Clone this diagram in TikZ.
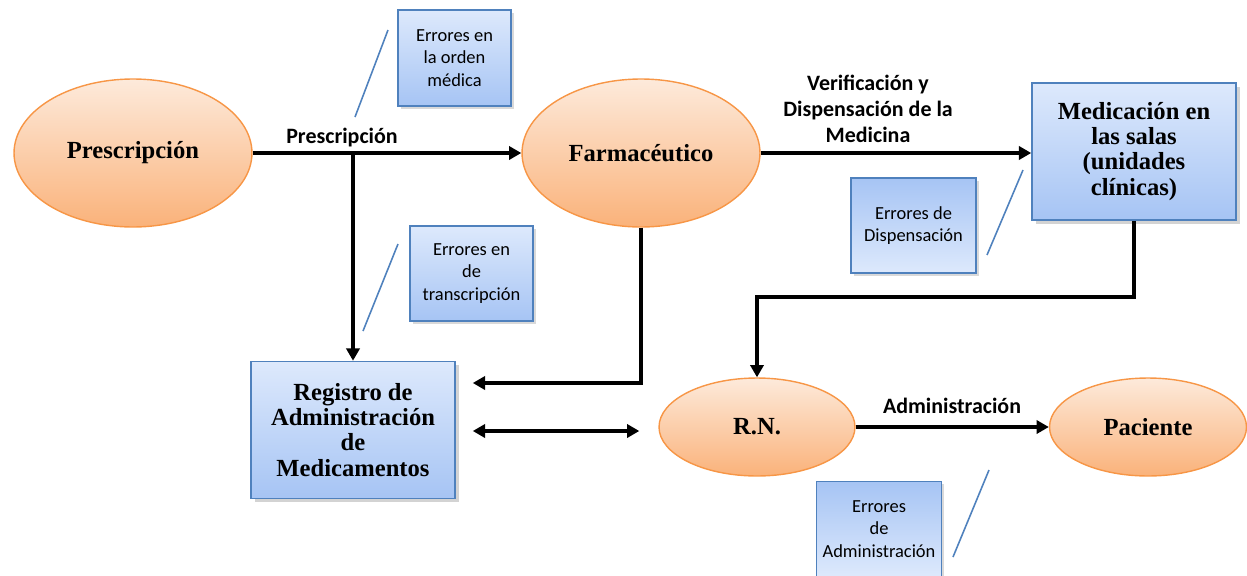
\documentclass[tikz,border=0pt]{standalone}
\usepackage{fontspec}
\setmainfont{Carlito}
\newfontfamily\headfont{Liberation Serif}
\usepackage{tikz}
\usetikzlibrary{calc,shapes.geometric,arrows.meta,shadows}

\definecolor{orline}{RGB}{247,150,70}
\definecolor{ortop}{RGB}{253,234,219}
\definecolor{orbot}{RGB}{250,178,122}
\definecolor{blline}{RGB}{79,129,189}
\definecolor{bltop}{RGB}{221,233,252}
\definecolor{blbot}{RGB}{166,196,244}

\tikzset{
	actor/.style={ellipse, draw=orline, line width=0.8pt, top color=ortop, bottom color=orbot,
		minimum width=4.76cm, minimum height=2.96cm, font=\headfont\bfseries\fontsize{14}{14.5}\selectfont},
	unit/.style={rectangle, draw=blline, line width=0.9pt, top color=bltop, bottom color=blbot,
		minimum width=4.08cm, minimum height=2.74cm, align=center,
		drop shadow={opacity=0.35, shadow xshift=2pt, shadow yshift=-2pt},
		font=\headfont\bfseries\fontsize{14}{14.3}\selectfont},
	errbox/.style={rectangle, draw=blline, line width=0.8pt, top color=bltop, bottom color=blbot,
		align=center, drop shadow={opacity=0.3, shadow xshift=1.5pt, shadow yshift=-1.5pt},
		font=\fontsize{10.5}{12.8}\selectfont},
	errboxinv/.style={errbox, top color=blbot, bottom color=bltop},
	flow/.style={line width=2pt, -{Triangle[length=7pt,width=7.5pt]}},
	flowboth/.style={line width=2pt, {Triangle[length=7pt,width=7.5pt]}-{Triangle[length=7pt,width=7.5pt]}},
	tag/.style={font=\bfseries\fontsize{12.5}{14.7}\selectfont, align=center},
	callout/.style={draw=blline, line width=0.9pt}
}

\begin{document}
\begin{tikzpicture}[x=0.02cm, y=-0.02cm]
			%%%%% START %%%%%
			\useasboundingbox (0,0) rectangle (1247,575);
			
			% main flow
			\node[actor] (presc) at (133,153) {Prescripción};
			\node[actor] (farm) at (641,153) {Farmacéutico};
			\node[unit] (med) at (1134,151.5) {Medicación en\\las salas\\(unidades\\clínicas)};
			\node[unit] (reg) at (353,430) {Registro de\\Administración\\de\\Medicamentos};
			\node[actor, minimum width=3.92cm, minimum height=1.96cm] (rn) at (757,427) {R.N.};
			\node[actor, minimum width=3.94cm, minimum height=1.96cm] (pac) at (1148,427) {Paciente};
			
			% error boxes
			\node[errbox, minimum width=2.26cm, minimum height=1.92cm] (errorden) at (454.5,58) {Errores en\\la orden\\médica};
			\node[errboxinv, minimum width=2.5cm, minimum height=1.9cm] (errdisp) at (913.5,225.5) {Errores de\\Dispensación};
			\node[errbox, minimum width=2.46cm, minimum height=1.9cm] (errtrans) at (471.5,273.5) {Errores en\\de\\transcripción};
			\node[errboxinv, minimum width=2.48cm, minimum height=1.9cm] (erradm) at (879,529) {Errores\\de\\Administración};
			
			% arrows
			\draw[flow] (presc) -- (farm);
			\node[tag] (lblpresc) at (342,138) {Prescripción};
			\draw[flow] (reg.north |- presc.east) -- (reg.north);
			\draw[flow] (farm.east) -- (farm.east -| med.west);
			\node[tag] (lblverif) at (868,109) {Verificación y\\Dispensación de la\\Medicina};
			
			\coordinate (regin) at ($(reg.east)+(17,-47)$);
			\draw[flow] (farm.south) |- (regin);
			\draw[flowboth] ($(reg.east)+(17,1)$) -- ($(rn.west)+(-19,4)$);
			\draw[flow] (med.south) -- ++(0,76) -| (rn.north);
			\draw[flow] (rn) -- (pac);
			\node[tag] (lbladm) at (952,406) {Administración};
			
			% callout strokes
			\coordinate (c1a) at (388,30);   \coordinate (c1b) at (355,117);
			\coordinate (c2a) at (1023,170); \coordinate (c2b) at (987,255);
			\coordinate (c3a) at (398,244);  \coordinate (c3b) at (363,331);
			\coordinate (c4a) at (989,470);  \coordinate (c4b) at (953,557);
			\draw[callout] (c1a) -- (c1b);
			\draw[callout] (c2a) -- (c2b);
			\draw[callout] (c3a) -- (c3b);
			\draw[callout] (c4a) -- (c4b);
			
			%%%%% END %%%%%
\end{tikzpicture}
\end{document}
